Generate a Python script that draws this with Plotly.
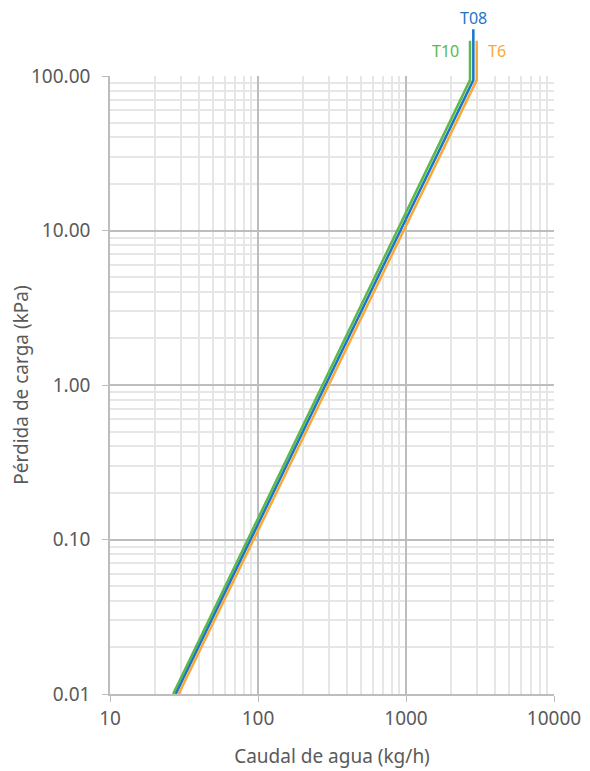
import plotly.graph_objects as go
import numpy as np

# Data
series_names = ["T10", "T08", "T6"]
series_colors = ["#5bb94a", "#1c75c6", "#f8a93b"]
t10_flow = [26.7, 2707, 2707]
t10_dp = [0.01, 94, 169]
t08_flow = [27.8, 2851, 2851]
t08_dp = [0.01, 94, 201]
t6_flow = [29.1, 3006, 3006]
t6_dp = [0.01, 94, 169]

x_tickvals = [10, 100, 1000, 10000]
x_ticktext = ["10", "100", "1000", "10000"]
y_tickvals = [0.01, 0.1, 1, 10, 100]
y_ticktext = ["0.01", "0.10", "1.00", "10.00", "100.00"]
x_minor = [m * 10 ** e for e in range(1, 4) for m in range(2, 10)]
y_minor = [m * 10 ** e for e in range(-2, 2) for m in range(2, 10)]

# the page body has an 8px default margin
W, H = 582, 763
ml, mr, mt, mb = 102, 36, 2, 77
main_top_px = 68
plot_h = H - mt - mb
main_h = H - main_top_px - mb
dom_top = main_h / plot_h
y2_top = -2 + 4 * plot_h / main_h

font = "Noto Sans, Roboto, sans-serif"
txt = "#5a5a5a"

fig = go.Figure()
# empty trace to create the gridded main subplot
fig.add_trace(go.Scatter(x=[], y=[], xaxis="x", yaxis="y", showlegend=False, hoverinfo="skip"))
for name, xs, ys, c in zip(series_names, [t10_flow, t08_flow, t6_flow],
                           [t10_dp, t08_dp, t6_dp], series_colors):
    fig.add_trace(go.Scatter(x=xs, y=ys, mode="lines", name=name,
                             line=dict(color=c, width=2.5),
                             xaxis="x2", yaxis="y2", showlegend=False,
                             hoverinfo="x+y+name"))

# labels
fig.add_annotation(x=np.log10(t08_flow[-1]), y=np.log10(t08_dp[-1]), xref="x2", yref="y2",
                   text="T08", showarrow=False, yanchor="bottom", xanchor="center",
                   font=dict(color=series_colors[1], size=16, family=font), yshift=-2)
fig.add_annotation(x=np.log10(t10_flow[-1]), y=np.log10(t10_dp[-1]), xref="x2", yref="y2",
                   text="T10", showarrow=False, yanchor="middle", xanchor="right",
                   font=dict(color=series_colors[0], size=16, family=font), xshift=-9, yshift=-10)
fig.add_annotation(x=np.log10(t6_flow[-1]), y=np.log10(t6_dp[-1]), xref="x2", yref="y2",
                   text="T6", showarrow=False, yanchor="middle", xanchor="left",
                   font=dict(color=series_colors[2], size=16, family=font), xshift=9, yshift=-10)

grid_major = "#bdbdbd"
grid_minor = "#e6e6e6"
fs = 19

fig.update_layout(
    width=W, height=H,
    margin=dict(l=ml, r=mr, t=mt, b=mb, autoexpand=False),
    paper_bgcolor="white", plot_bgcolor="rgba(0,0,0,0)",
    font=dict(family=font, color=txt, size=fs),
    xaxis=dict(type="log", range=[1, 4], domain=[0, 1], anchor="y", automargin=False,
               tickvals=x_tickvals, ticktext=x_ticktext,
               showgrid=True, gridcolor=grid_major, gridwidth=1.5,
               showline=True, linecolor=grid_major, linewidth=1.5,
               ticks="outside", ticklen=6, tickcolor=grid_major,
               minor=dict(tickmode="array", tickvals=x_minor, showgrid=True,
                          gridcolor=grid_minor, gridwidth=1.5, ticks=""),
               zeroline=False, tickfont=dict(size=fs, color=txt),
               title=dict(text="Caudal de agua (kg/h)", font=dict(size=fs, color=txt), standoff=20)),
    yaxis=dict(type="log", range=[-2, 2], domain=[0, dom_top], anchor="x", automargin=False,
               tickvals=y_tickvals, ticktext=y_ticktext,
               showgrid=True, gridcolor=grid_major, gridwidth=1.5,
               showline=True, linecolor=grid_major, linewidth=1.5,
               ticks="outside", ticklen=6, tickcolor=grid_major,
               minor=dict(tickmode="array", tickvals=y_minor, showgrid=True,
                          gridcolor=grid_minor, gridwidth=1.5, ticks=""),
               zeroline=False, tickfont=dict(size=fs, color=txt),
               ticklabelstandoff=8,
               title=dict(text="Pérdida de carga (kPa)", font=dict(size=fs, color=txt), standoff=0)),
    xaxis2=dict(type="log", range=[1, 4], domain=[0, 1], anchor="y2", automargin=False,
                visible=False, showgrid=False, zeroline=False),
    yaxis2=dict(type="log", range=[-2, y2_top], domain=[0, 1], anchor="x2", automargin=False,
                visible=False, showgrid=False, zeroline=False),
)

fig.write_html("out.html")
